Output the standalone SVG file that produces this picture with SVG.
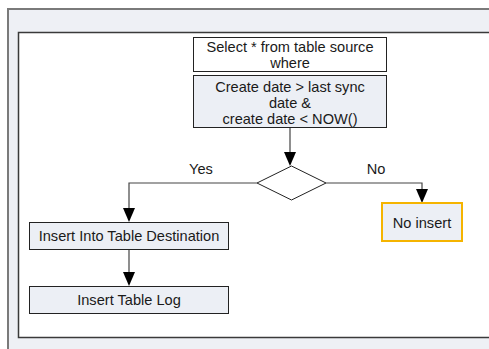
<svg xmlns="http://www.w3.org/2000/svg" width="489" height="349" viewBox="0 0 489 349">
  <style>
    .frame { fill: #eef0f5; stroke: #7a7a7a; stroke-width: 2; }
    .panel { fill: #ffffff; stroke: #3a3a3a; stroke-width: 1.5; }
    .box { fill: #eceff5; stroke: #222222; stroke-width: 1; }
    .plain { fill: #ffffff; stroke: #222222; stroke-width: 1; }
    .alt { fill: #eceff5; stroke: #f5b400; stroke-width: 2; }
    .dec { fill: #ffffff; stroke: #222222; stroke-width: 1; }
    .line { fill: none; stroke: #444444; stroke-width: 1.2; }
    .head { fill: #000000; }
    text { font-family: "Liberation Sans", Arial, sans-serif; font-size: 14.6px; fill: #1a1a1a; text-anchor: middle; }
  </style>

  <!-- outer container -->
  <rect class="frame" x="8" y="9" width="490" height="350"/>
  <rect class="panel" x="18.5" y="32.5" width="480" height="305"/>

  <!-- connectors -->
  <g id="connectors">
    <path class="line" d="M290,128 V152"/>
    <path class="head" d="M284,152 L296,152 L290,166 Z"/>

    <path class="line" d="M257,183 H129 V208"/>
    <path class="head" d="M123,208 L135,208 L129,222 Z"/>

    <path class="line" d="M326,183 H422 V189"/>
    <path class="head" d="M416,189 L428,189 L422,203 Z"/>

    <path class="line" d="M129,249 V272"/>
    <path class="head" d="M123,272 L135,272 L129,286 Z"/>

    <text x="201" y="174">Yes</text>
    <text x="376" y="174">No</text>
  </g>

  <g id="select">
    <rect class="plain" x="193.5" y="37.5" width="193" height="34"/>
    <text x="290" y="52">Select * from table source</text>
    <text x="290" y="68">where</text>
  </g>

  <g id="condition">
    <rect class="box" x="193.5" y="75.5" width="193" height="52"/>
    <text x="290" y="91.5">Create date &gt; last sync</text>
    <text x="290" y="107.5">date &amp;</text>
    <text x="290" y="123.5">create date &lt; NOW()</text>
  </g>

  <g id="decision">
    <path class="dec" d="M257,183 L291.5,166 L326,183 L291.5,200 Z"/>
  </g>

  <g id="insert-dest">
    <rect class="box" x="29.5" y="222.5" width="199" height="27"/>
    <text x="129" y="241">Insert Into Table Destination</text>
  </g>

  <g id="insert-log">
    <rect class="box" x="29.5" y="286.5" width="199" height="27"/>
    <text x="129" y="305">Insert Table Log</text>
  </g>

  <g id="no-insert">
    <rect class="alt" x="382" y="203" width="80" height="38"/>
    <text x="422" y="227.5">No insert</text>
  </g>
</svg>
